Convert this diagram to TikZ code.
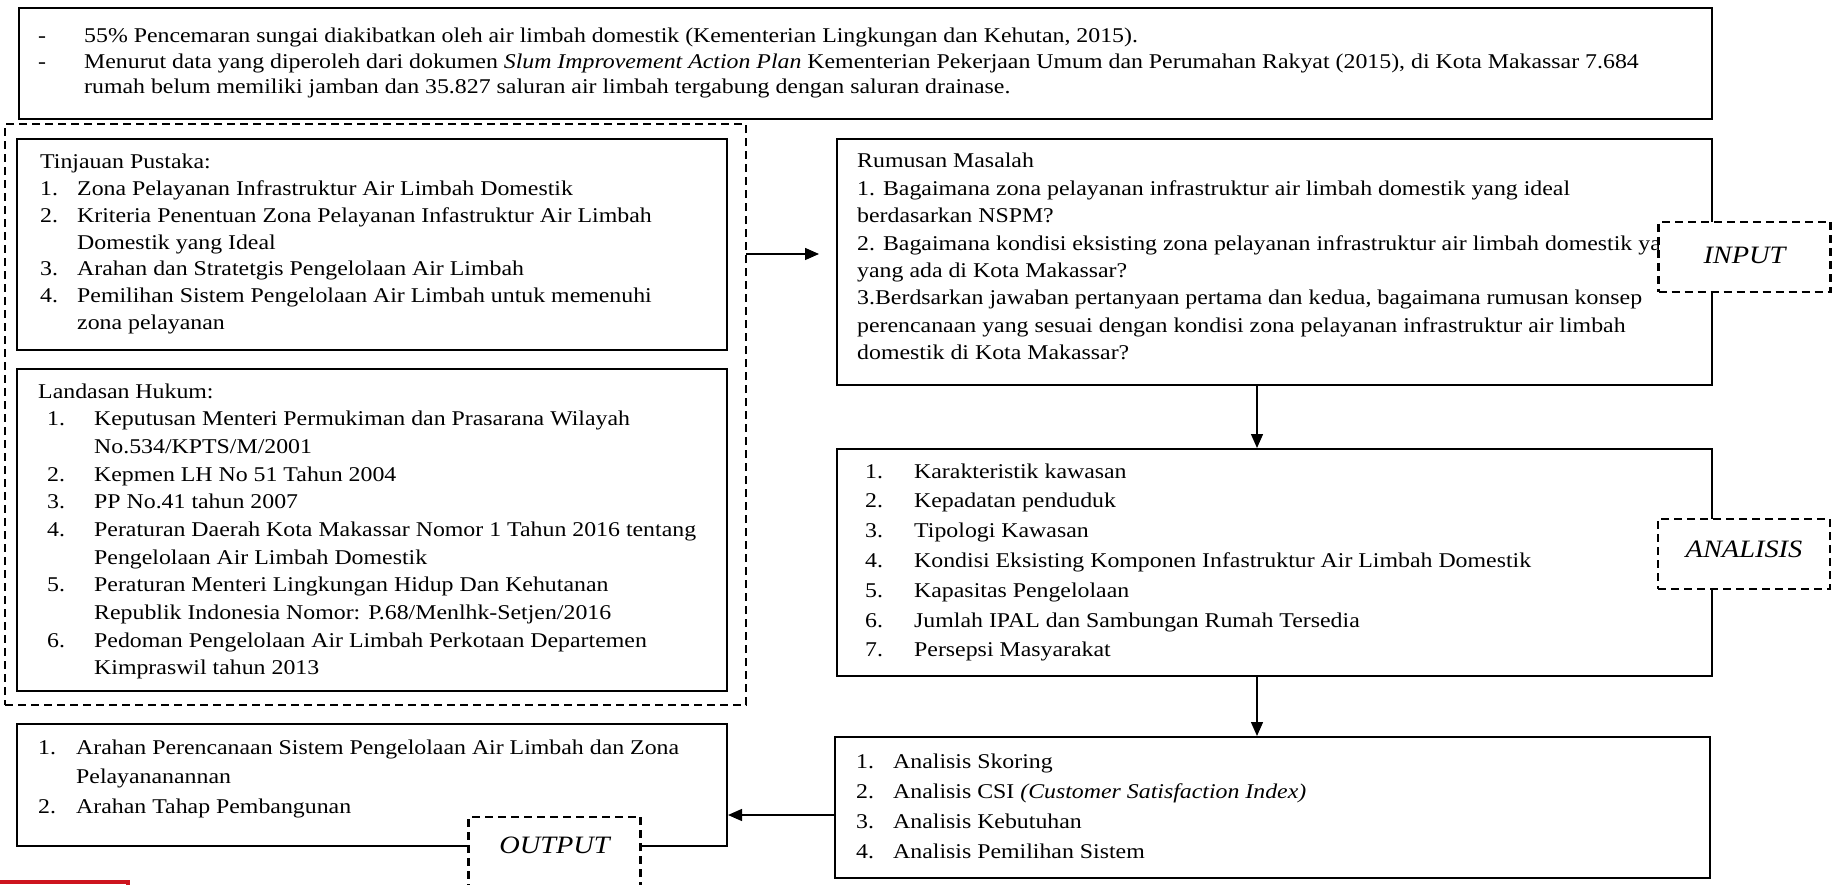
\documentclass[tikz,border=0pt]{standalone}
\usepackage{fontspec}
\setmainfont{Liberation Serif}[FakeStretch=1.135]
\usetikzlibrary{arrows.meta, calc, positioning}
\definecolor{badgered}{RGB}{205,20,30}

\tikzset{
  box/.style={draw, line width=2pt, anchor=north west, inner sep=0pt},
  group/.style={box, line width=2.4pt, dash pattern=on 8pt off 5pt},
  tag/.style={draw, line width=2.4pt, dash pattern=on 8pt off 5pt, fill=white,
    minimum width=172pt, minimum height=70pt, inner sep=0pt,
    font=\fontsize{25}{30}\selectfont\itshape},
  txt/.style={anchor=base west, inner sep=0pt},
  flow/.style={line width=1.4pt, -{Triangle[length=14pt, width=12pt]}}
}

\begin{document}
\begin{tikzpicture}[x=1pt, y=-1pt]
\useasboundingbox (0,0) rectangle (1840,885);

% frames
\node[box, minimum width=1693pt, minimum height=111pt] (fakta) at (18,7) {};
\node[group, minimum width=741pt, minimum height=581pt] (pustaka) at (4,123) {};
\node[box, minimum width=710pt, minimum height=211pt] (tinjauan) at (16,138) {};
\node[box, minimum width=710pt, minimum height=322pt] (hukum) at (16,368) {};
\node[box, minimum width=875pt, minimum height=246pt] (rumusan) at (836,138) {};
\node[box, minimum width=875pt, minimum height=227pt] (analisis) at (836,448) {};
\node[box, minimum width=875pt, minimum height=141pt] (metode) at (834,736) {};
\node[box, minimum width=710pt, minimum height=122pt] (output) at (16,723) {};

% texts
\node[txt, font=\fontsize{21}{25.5}\selectfont] (faktaText) at (38,43) {\begin{tabular}[t]{@{}p{46pt}@{}l@{}}
- & 55\% Pencemaran sungai diakibatkan oleh air limbah domestik (Kementerian Lingkungan dan Kehutan, 2015).\\
- & Menurut data yang diperoleh dari dokumen \textit{Slum Improvement Action Plan} Kementerian Pekerjaan Umum dan Perumahan Rakyat (2015), di Kota Makassar 7.684\\
  & rumah belum memiliki jamban dan 35.827 saluran air limbah tergabung dengan saluran drainase.
\end{tabular}};

\node[txt, font=\fontsize{21}{26.7}\selectfont] (tinjauanText) at (40,169) {\begin{tabular}[t]{@{}p{37pt}@{}l@{}}
\multicolumn{2}{@{}l@{}}{Tinjauan Pustaka:}\\
1. & Zona Pelayanan Infrastruktur Air Limbah Domestik\\
2. & Kriteria Penentuan Zona Pelayanan Infastruktur Air Limbah\\
   & Domestik yang Ideal\\
3. & Arahan dan Stratetgis Pengelolaan Air Limbah\\
4. & Pemilihan Sistem Pengelolaan Air Limbah untuk memenuhi\\
   & zona pelayanan
\end{tabular}};

\node[txt, font=\fontsize{21}{27.7}\selectfont] (hukumText) at (38,398) {\begin{tabular}[t]{@{\hspace{9pt}}p{47pt}@{}l@{}}
\multicolumn{2}{@{}l@{}}{Landasan Hukum:}\\
1. & Keputusan Menteri Permukiman dan Prasarana Wilayah\\
   & No.534/KPTS/M/2001\\
2. & Kepmen LH No 51 Tahun 2004\\
3. & PP No.41 tahun 2007\\
4. & Peraturan Daerah Kota Makassar Nomor 1 Tahun 2016 tentang\\
   & Pengelolaan Air Limbah Domestik\\
5. & Peraturan Menteri Lingkungan Hidup Dan Kehutanan\\
   & Republik Indonesia Nomor: P.68/Menlhk-Setjen/2016\\
6. & Pedoman Pengelolaan Air Limbah Perkotaan Departemen\\
   & Kimpraswil tahun 2013
\end{tabular}};

\node[txt, font=\fontsize{21}{27.4}\selectfont] (rumusanText) at (857,168) {\begin{tabular}[t]{@{}l@{}}
Rumusan Masalah\\
1. Bagaimana zona pelayanan infrastruktur air limbah domestik yang ideal\\
berdasarkan NSPM?\\
2. Bagaimana kondisi eksisting zona pelayanan infrastruktur air limbah domestik ya\\
yang ada di Kota Makassar?\\
3.Berdsarkan jawaban pertanyaan pertama dan kedua, bagaimana rumusan konsep\\
perencanaan yang sesuai dengan kondisi zona pelayanan infrastruktur air limbah\\
domestik di Kota Makassar?
\end{tabular}};

\node[txt, font=\fontsize{21}{29.8}\selectfont] (analisisText) at (865,478) {\begin{tabular}[t]{@{}p{49pt}@{}l@{}}
1. & Karakteristik kawasan\\
2. & Kepadatan penduduk\\
3. & Tipologi Kawasan\\
4. & Kondisi Eksisting Komponen Infastruktur Air Limbah Domestik\\
5. & Kapasitas Pengelolaan\\
6. & Jumlah IPAL dan Sambungan Rumah Tersedia\\
7. & Persepsi Masyarakat
\end{tabular}};

\node[txt, font=\fontsize{21}{30}\selectfont] (metodeText) at (856,768) {\begin{tabular}[t]{@{}p{37pt}@{}l@{}}
1. & Analisis Skoring\\
2. & Analisis CSI \textit{(Customer Satisfaction Index)}\\
3. & Analisis Kebutuhan\\
4. & Analisis Pemilihan Sistem
\end{tabular}};

\node[txt, font=\fontsize{21}{29.5}\selectfont] (outputText) at (38,754) {\begin{tabular}[t]{@{}p{38pt}@{}l@{}}
1. & Arahan Perencanaan Sistem Pengelolaan Air Limbah dan Zona\\
   & Pelayananannan\\
2. & Arahan Tahap Pembangunan
\end{tabular}};

% stage tags
\node[tag, text depth=4pt] (inputTag) at (1744.5,257) {INPUT};
\node[tag, text depth=10pt] (analisisTag) at (1744,554) {ANALISIS};
\node[tag, text depth=14pt] (outputTag) at (554.5,852) {OUTPUT};

% connectors
\coordinate (spine) at (1257,0);
\coordinate (toRumusan) at (746,254);
\coordinate (toOutput) at (834,815);
\draw[flow, shorten >=17pt] (toRumusan) -- (toRumusan -| rumusan.west);
\draw[flow] (rumusan.south -| spine) -- (analisis.north -| spine);
\draw[flow] (analisis.south -| spine) -- (metode.north -| spine);
\draw[flow] (toOutput) -- (toOutput -| output.east);

% cut-off mark at the page foot
\draw[badgered, line width=4pt] (-4,882) rectangle (128,930);
\end{tikzpicture}
\end{document}
